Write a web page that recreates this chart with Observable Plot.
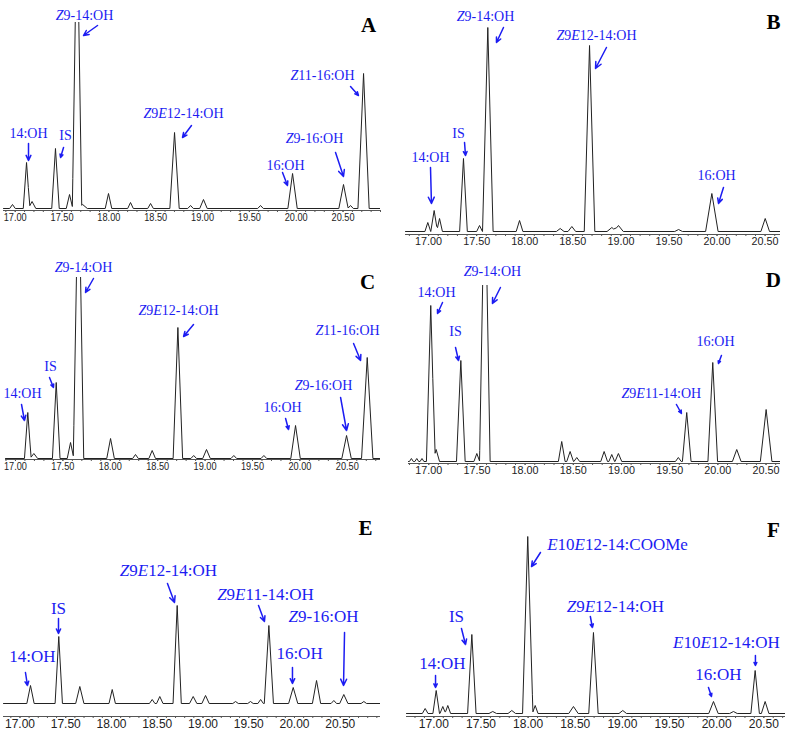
<!DOCTYPE html>
<html><head><meta charset="utf-8">
<script src="https://cdn.jsdelivr.net/npm/d3@7"></script>
<script src="https://cdn.jsdelivr.net/npm/@observablehq/plot@0.6"></script>
<style>
body{margin:0;background:#fff;}
#wrap{position:relative;width:787px;height:733px;overflow:hidden;background:#fff;}
#wrap svg{position:absolute;overflow:visible;}
</style></head><body><div id="wrap"></div>
<script>
// x-axis tick labels (retention time, min)
const tickLabels = [17, 17.5, 18, 18.5, 19, 19.5, 20, 20.5];

// peaks: [retention time, height, half-width at base]
const peaksA = [[16.971,4,0.03],[17.121,46,0.035],[17.18,7,0.04],[17.43,60,0.04],[17.58,14,0.035],[17.66,300,0.05],[17.72,4,0.05],[17.996,15,0.035],[18.231,6,0.03],[18.445,5,0.03],[18.701,76,0.05],[18.872,3,0.03],[19.01,9,0.04],[19.619,3,0.03],[19.961,35,0.05],[20.505,24,0.05],[20.58,3,0.03],[20.719,135,0.06]];
const peaksB = [[16.992,9,0.03],[17.058,21,0.035],[17.114,13,0.03],[17.363,73,0.04],[17.53,6,0.03],[17.616,204,0.055],[17.946,11,0.035],[18.369,3,0.04],[18.49,5,0.04],[18.674,186,0.055],[18.906,4,0.05],[18.975,6,0.05],[19.6,2,0.04],[19.946,38,0.065],[20.501,13,0.045]];
const peaksC = [[17.13,46,0.035],[17.194,5,0.04],[17.43,76,0.04],[17.581,16,0.035],[17.665,300,0.055],[18.003,20,0.04],[18.266,4,0.03],[18.442,8,0.035],[18.713,131,0.05],[18.88,3,0.03],[19.015,9,0.04],[19.303,3,0.03],[19.62,3,0.03],[19.954,33,0.05],[20.492,23,0.05],[20.71,101,0.06]];
const peaksD = [[16.82,3,0.02],[16.876,3,0.02],[16.93,3,0.02],[17.021,156,0.045],[17.077,12,0.035],[17.333,101,0.045],[17.499,8,0.03],[17.582,300,0.055],[18.38,20,0.035],[18.467,10,0.035],[18.536,4,0.03],[18.82,10,0.035],[18.899,7,0.03],[18.968,8,0.035],[19.59,4,0.03],[19.677,49,0.045],[19.947,99,0.05],[20.196,12,0.045],[20.501,52,0.06]];
const peaksE = [[17.115,18,0.04],[17.424,67,0.04],[17.654,17,0.045],[18.008,14,0.035],[18.445,4,0.03],[18.528,7,0.035],[18.718,98,0.045],[18.893,7,0.04],[19.028,8,0.04],[19.356,2,0.03],[19.519,2,0.03],[19.63,4,0.03],[19.72,78,0.05],[19.986,16,0.05],[20.241,23,0.045],[20.43,3,0.03],[20.539,9,0.045],[20.758,2,0.03]];
const peaksF = [[16.908,5,0.03],[17.025,23,0.035],[17.095,7,0.03],[17.148,8,0.03],[17.403,79,0.045],[17.625,2,0.04],[17.827,3,0.04],[17.996,177,0.055],[18.075,8,0.03],[18.481,7,0.05],[18.693,81,0.05],[19.004,3,0.04],[19.966,12,0.05],[20.178,2,0.04],[20.408,43,0.045],[20.514,12,0.04]];

// labels: [text, time, height]; arrows: [t1, h1, t2, h2]
const labelsA = [["Z9-14:OH",17.74,193],["14:OH",17.142,75],["IS",17.537,73],["Z9E12-14:OH",18.797,95],["16:OH",19.886,43],["Z9-16:OH",20.195,70],["Z11-16:OH",20.281,133]];
const arrowsA = [[17.879,183,17.729,173],[17.142,65,17.142,48],[17.516,61,17.484,51],[18.882,83,18.786,71],[19.854,36,19.907,23],[20.42,56,20.505,32],[20.58,122,20.665,113]];
const labelsB = [["Z9-14:OH",17.592,215],["Z9E12-14:OH",18.746,196],["IS",17.311,98],["14:OH",17.02,74],["16:OH",19.995,56]];
const arrowsB = [[17.779,204,17.706,189],[18.85,184,18.736,163],[17.374,89,17.384,76],[17.02,64,17.03,28],[20.067,44,20.015,28]];
const labelsC = [["Z9-14:OH",17.718,191],["Z9E12-14:OH",18.72,148],["IS",17.37,92],["14:OH",17.074,65],["16:OH",19.817,51],["Z9-16:OH",20.249,73],["Z11-16:OH",20.503,128]];
const arrowsC = [[17.823,180,17.739,166],[18.878,134,18.773,122],[17.359,81,17.401,71],[17.064,54,17.095,38],[19.849,40,19.88,29],[20.429,61,20.492,28],[20.566,115,20.64,98]];
const labelsD = [["Z9-14:OH",17.661,190],["14:OH",17.08,169],["IS",17.278,130],["Z9E11-14:OH",19.414,68],["16:OH",19.975,120]];
const arrowsD = [[17.744,174,17.661,158],[17.143,159,17.091,148],[17.278,114,17.309,101],[19.57,57,19.622,48],[20.037,106,20.006,98]];
const labelsE = [["Z9E12-14:OH",18.623,133],["IS",17.421,95],["14:OH",17.137,47],["Z9E11-14:OH",19.683,109],["16:OH",20.055,50],["Z9-16:OH",20.317,87]];
const arrowsE = [[18.612,120,18.689,101],[17.421,85,17.421,70],[17.06,31,17.082,18],[19.607,98,19.672,82],[19.978,36,19.978,20],[20.547,71,20.536,18]];
const labelsF = [["E10E12-14:COOMe",18.948,169],["IS",17.24,97],["14:OH",17.092,50],["Z9E12-14:OH",18.926,107],["16:OH",20.019,39],["E10E12-14:OH",20.103,71]];
const arrowsF = [[18.131,161,18.036,147],[17.293,85,17.336,69],[17.018,38,17.018,26],[18.66,97,18.682,86],[19.913,26,19.945,17],[20.411,58,20.411,48]];

// panel letters: [letter, time, height]
const letters = [["A",20.772,183],["B",20.587,209],["C",20.714,176],["D",20.576,181],["E",20.776,175],["F",20.602,183]];

// layout (page pixels)
const panels = [
  {peaks: peaksA, labels: labelsA, arrows: arrowsA, letter: letters[0], left: 0,   top: 0,   width: 393, height: 235, mL: 3,  mR: 13, mT: 22,  mB: 25, domain: [16.875, 20.9],  y: [-2, 186],  fs: 14, tl: 23},
  {peaks: peaksB, labels: labelsB, arrows: arrowsB, letter: letters[1], left: 393, top: 0,   width: 394, height: 250, mL: 12, mR: 7,  mT: 22,  mB: 16, domain: [16.76, 20.66],  y: [-3, 209],  fs: 14, tl: 27},
  {peaks: peaksC, labels: labelsC, arrows: arrowsC, letter: letters[2], left: 0,   top: 250, width: 393, height: 235, mL: 5,  mR: 13, mT: 27,  mB: 26, domain: [16.895, 20.85], y: [-1, 181],  fs: 14, tl: 23},
  {peaks: peaksD, labels: labelsD, arrows: arrowsD, letter: letters[3], left: 393, top: 250, width: 394, height: 235, mL: 15, mR: 7,  mT: 35,  mB: 22, domain: [16.79, 20.65],  y: [-2, 176],  fs: 14, tl: 27},
  {peaks: peaksE, labels: labelsE, arrows: arrowsE, letter: letters[4], left: 0,   top: 490, width: 393, height: 243, mL: 3,  mR: 13, mT: 110, mB: 17, domain: [16.82, 20.94],  y: [-13, 103], fs: 17, tl: 30},
  {peaks: peaksF, labels: labelsF, arrows: arrowsF, letter: letters[5], left: 393, top: 490, width: 394, height: 243, mL: 13, mR: 2,  mT: 40,  mB: 17, domain: [16.71, 20.73],  y: [-3, 183],  fs: 17, tl: 30}
];

const blue = "#1c1cf2";
const serif = "'Liberation Serif', 'Times New Roman', serif";
const sans = "'Liberation Sans', Arial, sans-serif";

function trace(peaks, d0, d1) {
  const xs = new Set([d0, d1]);
  for (const [t, , w] of peaks) { xs.add(t - w); xs.add(t); xs.add(t + w); }
  return [...xs].filter(x => x >= d0 && x <= d1).sort((a, b) => a - b)
    .map(x => ({t: x, v: d3.sum(peaks, ([t, h, w]) => Math.max(0, h * (1 - Math.abs(x - t) / w)))}));
}

const wrap = document.getElementById("wrap");
for (const p of panels) {
  const data = trace(p.peaks, p.domain[0], p.domain[1]);
  const minor = d3.range(Math.ceil(p.domain[0] * 10), Math.floor(p.domain[1] * 10) + 1).map(v => v / 10);
  const svg = Plot.plot({
    width: p.width, height: p.height,
    marginLeft: p.mL, marginRight: p.mR, marginTop: p.mT, marginBottom: p.mB,
    x: {domain: p.domain, label: null},
    y: {domain: p.y, axis: null, label: null},
    style: {background: "transparent", overflow: "visible"},
    marks: [
      Plot.ruleY([p.y[0]], {stroke: "#555", strokeWidth: 1}),
      Plot.axisX({ticks: minor, tickSize: 2, tickFormat: () => "", label: null, stroke: "#555", ariaLabel: "minor"}),
      Plot.axisX({ticks: tickLabels, tickSize: 2, tickPadding: 1, tickFormat: d3.format(".2f"), label: null,
        stroke: "#555", fill: "#222", fontSize: p.fs === 17 ? 12 : 11, fontFamily: sans}),
      Plot.line(data, {x: "t", y: "v", stroke: "#222", strokeWidth: 1, clip: true}),
      Plot.arrow(p.arrows, {x1: d => d[0], y1: d => d[1], x2: d => d[2], y2: d => d[3],
        stroke: blue, strokeWidth: 1.5, headLength: 7, headAngle: 50}),
      Plot.text(p.labels, {x: d => d[1], y: d => d[2], text: d => d[0], fill: blue,
        fontSize: p.fs, fontFamily: serif}),
      Plot.text([p.letter], {x: d => d[1], y: d => d[2], text: d => d[0], fill: "#000",
        fontSize: 21, fontWeight: "bold", fontFamily: serif})
    ]
  });
  svg.style.left = p.left + "px";
  svg.style.top = p.top + "px";
  // italic stereochemistry descriptors (Z, E followed by a position number)
  d3.select(svg).selectAll('g[aria-label="text"] text').each(function() {
    const s = this.textContent;
    if (!/[ZE]\d/.test(s)) return;
    const sel = d3.select(this);
    sel.text(null);
    const parts = s.split(/([ZE](?=\d))/).filter(x => x.length);
    for (const part of parts) {
      const ts = sel.append("tspan").text(part);
      if (/^[ZE]$/.test(part)) ts.attr("font-style", "italic");
    }
  });
  // remove the empty labels of the minor-tick axis; condense the tick labels
  d3.select(svg).selectAll('g[aria-label="x-axis tick label"] text').each(function() {
    if (!this.textContent) d3.select(this).remove();
    else d3.select(this).attr("textLength", p.tl).attr("lengthAdjust", "spacingAndGlyphs");
  });
  wrap.appendChild(svg);
}
</script></body></html>
